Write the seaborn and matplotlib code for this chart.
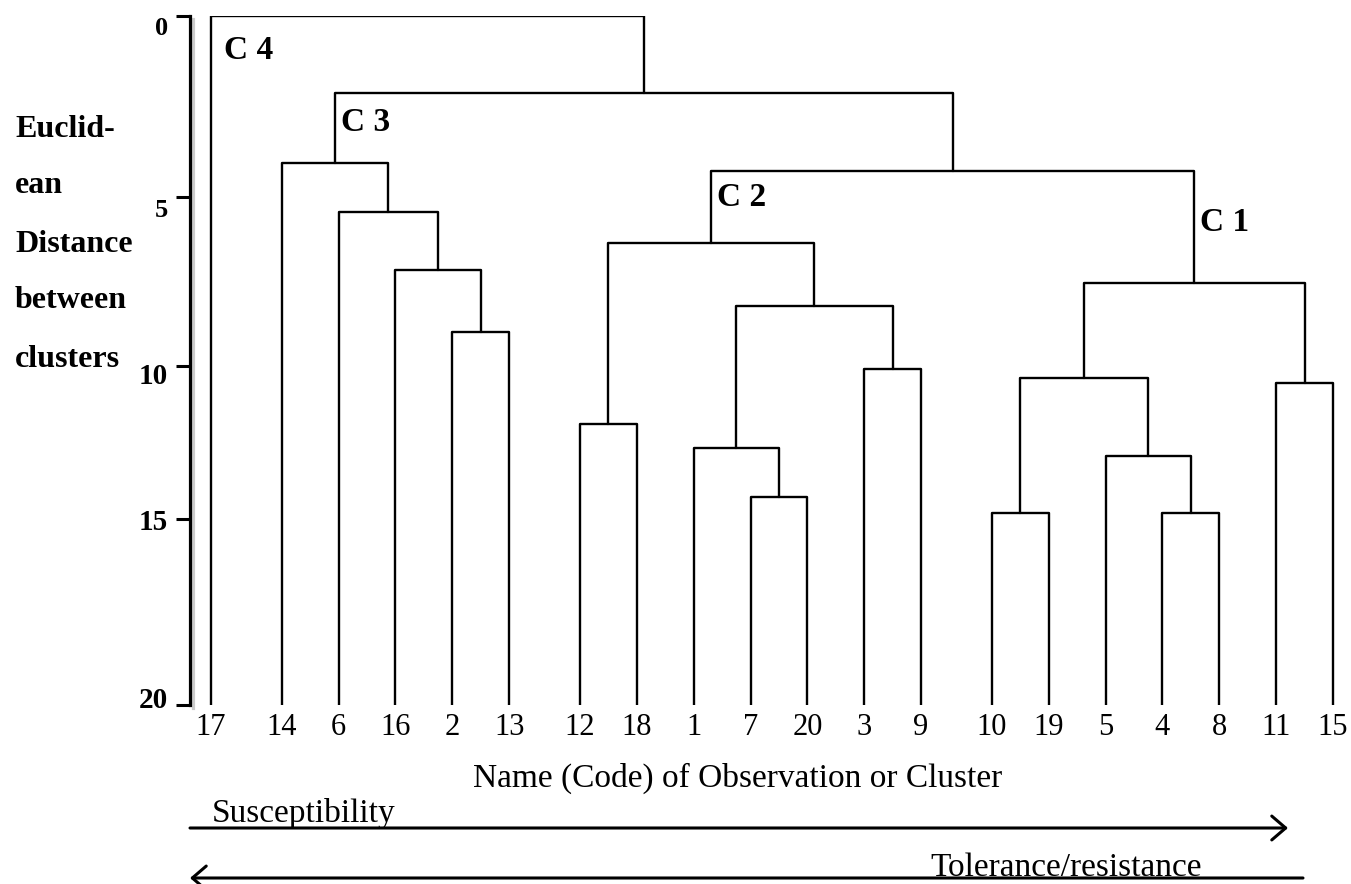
import numpy as np
import pandas as pd
import matplotlib
matplotlib.use("Agg")
import matplotlib.pyplot as plt
import matplotlib.patheffects as pe
import matplotlib.transforms as mtransforms
from matplotlib.patches import FancyArrowPatch
import seaborn as sns

# Observations in dendrogram order and the top-level cluster each belongs to
leaf_order = ["17", "14", "6", "16", "2", "13", "12", "18", "1", "7",
              "20", "3", "9", "10", "19", "5", "4", "8", "11", "15"]
leaf_cluster = ["C 4", "C 3", "C 3", "C 3", "C 3", "C 3", "C 2", "C 2", "C 2", "C 2",
                "C 2", "C 2", "C 2", "C 1", "C 1", "C 1", "C 1", "C 1", "C 1", "C 1"]

# Agglomeration steps: step k joins link_a[k] and link_b[k] (observation codes
# or earlier steps "s<k>") at the given Euclidean distance
link_a = ["2", "16", "6", "14", "12", "7", "1", "3", "s6", "s4",
          "10", "4", "5", "s10", "11", "s13", "s9", "s3", "17"]
link_b = ["13", "s0", "s1", "s2", "18", "20", "s5", "9", "s7", "s8",
          "19", "8", "s11", "s12", "15", "s14", "s15", "s16", "s17"]
link_dist = [8.99, 7.16, 5.44, 4.06, 11.90, 14.28, 12.68, 10.10, 8.22, 6.36,
             14.80, 14.80, 12.94, 10.39, 10.56, 7.54, 4.28, 2.13, 0.0]

# Cluster captions and the node each one marks
cluster_names = ["C 4", "C 3", "C 2", "C 1"]
cluster_nodes = ["17", "s3", "s9", "s15"]
cluster_label_dist = [0.52, 2.51, 4.59, 5.30]

leaf_base = 20.0
tick_values = [0, 5, 10, 15, 20]

# ---- layout -------------------------------------------------------------
W, H = 1351, 884
cluster_gap = 0.245          # extra space between top-level clusters
axis_spacing = [0, 181, 350, 503, 689]   # printed spacing of the distance ticks
tick_label_sizes = [19, 19, 21, 21, 21]
tick_label_shift = [-10, -11, -8, 0, 8]   # vertical nudge of tick labels, px

sns.set_theme(style="white")
plt.rcParams["font.family"] = ["Liberation Serif", "DejaVu Serif"]
plt.rcParams.update({"text.color": "black", "axes.labelcolor": "black",
                     "xtick.color": "black", "ytick.color": "black"})

# leaf positions: unit spacing, with a wider gap where the cluster changes
leaf_x = []
pos = 0.0
for i, c in enumerate(leaf_cluster):
    if i > 0:
        pos += 1.0 + (cluster_gap if c != leaf_cluster[i - 1] else 0.0)
    leaf_x.append(pos)

node_x = {lab: x for lab, x in zip(leaf_order, leaf_x)}
node_y = {lab: leaf_base for lab in leaf_order}

rows = []
for k, (a, b, d) in enumerate(zip(link_a, link_b, link_dist)):
    xa, ya, xb, yb = node_x[a], node_y[a], node_x[b], node_y[b]
    for x, y in [(xa, ya), (xa, d), (xb, d), (xb, yb)]:
        rows.append({"seg": k, "x": x, "y": y})
    node_x[f"s{k}"] = (xa + xb) / 2.0
    node_y[f"s{k}"] = d
links = pd.DataFrame(rows)

fig = plt.figure(figsize=(W / 100, H / 100), dpi=100)
ax = fig.add_axes([190 / W, 1 - 705 / H, (W - 190) / W, 689 / H])

sns.lineplot(data=links, x="x", y="y", units="seg", estimator=None, sort=False,
             color="black", linewidth=1.7, ax=ax, legend=False)

# the printed distance axis is not evenly spaced: piecewise-linear scale
ext_vals = np.array([-100.0] + tick_values + [120.0])
ext_pos = np.array([-100 * 34.45] + axis_spacing + [axis_spacing[-1] + 100 * 34.45])
ax.set_yscale("function",
              functions=(lambda v: np.interp(v, ext_vals, ext_pos),
                         lambda p: np.interp(p, ext_pos, ext_vals)))
ax.set_ylim(leaf_base, 0)
span = leaf_x[-1] - leaf_x[0]
px_per_unit = (1333 - 211) / span
ax.set_xlim(leaf_x[0] - 21 / px_per_unit, leaf_x[0] + (W - 211) / px_per_unit)

ax.set_xlabel("")
ax.set_ylabel("")
for side in ["top", "right", "bottom"]:
    ax.spines[side].set_visible(False)
ax.spines["left"].set_color("black")
ax.spines["left"].set_linewidth(2.3)
ax.spines["left"].set_path_effects([
    pe.SimpleLineShadow(offset=(2.5, -2), shadow_color="0.55", alpha=0.45),
    pe.Normal()])

ax.set_yticks(tick_values)
ax.set_yticklabels([str(v) for v in tick_values])
ax.tick_params(axis="y", left=True, direction="out", length=10, width=2.2,
               color="black", pad=6)
for lab, fs, dy in zip(ax.get_yticklabels(), tick_label_sizes, tick_label_shift):
    lab.set_fontsize(fs)
    lab.set_fontweight("bold")
    lab.set_transform(lab.get_transform() +
                      mtransforms.ScaledTranslation(0, dy / 100, fig.dpi_scale_trans))

ax.set_xticks(leaf_x)
ax.set_xticklabels(leaf_order, fontsize=22)
ax.tick_params(axis="x", bottom=False, length=0, pad=6)

# cluster captions beside their joining branches
for name, node, dy in zip(cluster_names, cluster_nodes, cluster_label_dist):
    dx = 9 if node in leaf_order else 4
    ax.annotate(name, xy=(node_x[node], dy), xytext=(dx, 0),
                textcoords="offset points", ha="left", va="top",
                fontsize=24, fontweight="bold")

# distance-axis caption
for txt, base in zip(["Euclid-", "ean", "Distance", "between", "clusters"],
                     [137, 193, 252, 308, 367]):
    fig.text(15 / W, 1 - base / H, txt, fontsize=23, fontweight="bold",
             ha="left", va="baseline")

fig.text(473 / W, 1 - 787 / H, "Name (Code) of Observation or Cluster",
         fontsize=24, ha="left", va="baseline")

# gradient arrows under the tree
fig.add_artist(FancyArrowPatch((190 / W, 1 - 828 / H), (1288 / W, 1 - 828 / H),
                               transform=fig.transFigure,
                               arrowstyle="->,head_length=0.5,head_width=0.43",
                               mutation_scale=20, lw=2.2, color="black",
                               shrinkA=0, shrinkB=0))
fig.text(212 / W, 1 - 822 / H, "Susceptibility", fontsize=24,
         ha="left", va="baseline")

fig.add_artist(FancyArrowPatch((1303 / W, 1 - 878 / H), (190 / W, 1 - 878 / H),
                               transform=fig.transFigure,
                               arrowstyle="->,head_length=0.5,head_width=0.43",
                               mutation_scale=20, lw=2.2, color="black",
                               shrinkA=0, shrinkB=0))
fig.text(930 / W, 1 - 876 / H, "Tolerance/resistance", fontsize=24,
         ha="left", va="baseline")

fig.savefig("out.png", dpi=100, facecolor="white")
